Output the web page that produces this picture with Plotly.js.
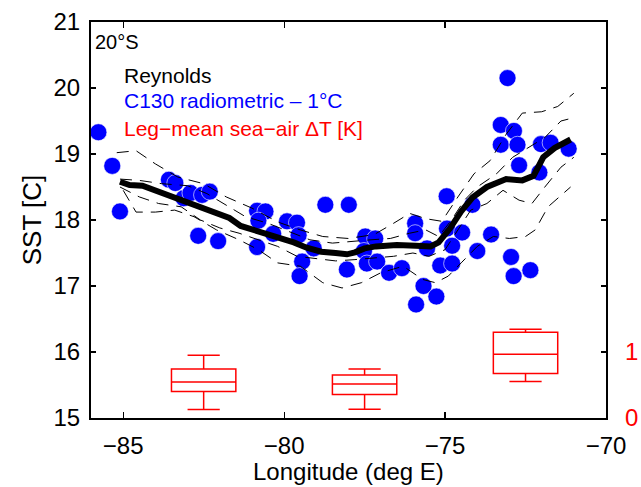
<!DOCTYPE html>
<html>
<head>
<meta charset="utf-8">
<script src="https://cdn.plot.ly/plotly-3.0.1.min.js"></script>
<style>html,body{margin:0;padding:0;background:#fff;} #chart{width:641px;height:487px;}</style>
</head>
<body>
<div id="chart"></div>
<script>
// C130 radiometric SST - 1°C (blue dots)
const c130Lon = [-85.77,-85.34,-85.10,-83.58,-83.38,-83.12,-82.91,-82.55,-82.31,-82.67,-82.05,
  -80.84,-80.58,-80.80,-80.84,-80.34,-79.91,-79.60,-79.55,-79.08,-79.44,-79.52,-78.72,-77.99,-78.05,
  -77.48,-77.17,-77.52,-77.43,-77.11,-76.74,-76.34,-75.93,-75.93,-75.56,-75.67,-75.90,-75.27,-75.15,
  -74.78,-74.95,-74.94,-74.47,-74.78,-74.15,-74.00,-73.57,-73.06,-73.27,-72.86,-73.27,-72.75,-72.70,
  -72.02,-71.72,-71.16,-72.07,-72.95,-72.87,-72.35];
const c130SST = [19.33,18.82,18.13,18.61,18.56,18.33,18.41,18.38,18.43,17.76,17.68,
  18.14,18.13,17.99,17.59,17.79,17.98,17.96,17.77,17.57,17.37,17.15,18.23,18.23,17.25,
  17.75,17.72,17.53,17.34,17.37,17.20,17.27,17.95,17.80,17.57,17.00,16.72,16.84,17.31,
  17.34,18.36,17.87,17.81,17.61,18.23,17.53,17.78,20.15,19.44,19.35,19.14,19.14,18.83,
  19.15,19.17,19.08,18.72,17.44,17.15,17.24];

// Reynolds SST (thick black line)
const reyLon = [-85.1,-84.8,-84.4,-83.9,-83.2,-82.6,-82.1,-81.7,-81.35,-80.75,-80.1,-79.7,-79.3,-78.85,
  -78.4,-78.05,-77.8,-77.5,-77.15,-76.5,-75.9,-75.45,-75.2,-74.85,-74.5,-74.15,-73.7,-73.1,-72.6,
  -72.25,-71.95,-71.6,-71.1];
const reySST = [18.58,18.53,18.52,18.43,18.30,18.19,18.10,18.03,17.91,17.82,17.73,17.66,17.58,17.52,
  17.50,17.48,17.51,17.57,17.60,17.62,17.61,17.60,17.66,17.87,18.13,18.34,18.50,18.62,18.60,
  18.67,18.95,19.09,19.22];

// Reynolds individual fields (thin dashed lines)
const dashALon = [-85.2,-84.6,-84,-83.3,-82.5,-81.8,-81,-80.2,-79.5,-78.8,-78,-77.2,-76.6,-76.1,-75.6,-75.1,-74.6,-74.1,-73.6,-73.1,-72.6,-72.0,-71.5,-71.0];
const dashASST = [19.02,19.05,18.85,18.65,18.55,18.35,18.18,17.97,17.85,17.75,17.72,17.78,17.95,18.1,18.02,17.98,18.35,18.7,18.9,19.3,19.62,19.64,19.72,19.92];
const dashBLon = [-85.0,-84.6,-84,-83.4,-82.8,-82.1,-81.4,-80.8,-80.2,-79.5,-78.8,-78.2,-77.6,-77.0,-76.3,-75.7,-75.3,-74.9,-74.5,-74.0,-73.5,-73.0,-72.5,-72.2,-71.8,-71.1];
const dashBSST = [18.45,18.12,18.12,18.15,18.05,17.85,17.7,17.55,17.35,17.3,17.05,16.97,17.05,17.2,17.3,17.1,17.05,17.15,17.35,17.6,17.75,17.72,17.75,17.85,18.2,18.5];
const dashCLon = [-85.1,-84.5,-83.8,-83.0,-82.4,-81.8,-81.2,-80.5,-79.8,-79.2,-78.5,-77.9,-77.3,-76.7,-76.1,-75.6,-75.2,-74.8,-74.4,-74.0,-73.4,-72.9,-72.4,-71.9,-71.4,-71.0];
const dashCSST = [18.62,18.6,18.55,18.52,18.4,18.22,18.05,17.95,17.82,17.7,17.65,17.68,17.7,17.72,17.8,17.85,17.75,18.0,18.3,18.5,18.7,18.95,19.1,19.25,19.5,19.55];
const dashDLon = [-85.1,-84.5,-83.9,-83.2,-82.6,-82.0,-81.4,-80.8,-80.2,-79.6,-79.0,-78.4,-77.8,-77.2,-76.6,-76.0,-75.5,-75.0,-74.6,-74.2,-73.7,-73.2,-72.7,-72.3,-71.9,-71.4,-71.0];
const dashDSST = [18.5,18.35,18.25,18.2,18.0,17.88,17.8,17.7,17.6,17.45,17.42,17.38,17.4,17.42,17.45,17.5,17.45,17.55,17.85,18.15,18.25,18.45,18.3,18.25,18.5,18.8,18.95];

// Leg-mean sea-air ΔT [K] box statistics (right axis)
const legLon = [-82.5, -77.5, -72.5];
const legLow = [0.127, 0.132, 0.552];
const legQ1 = [0.40, 0.355, 0.674];
const legMed = [0.546, 0.516, 0.967];
const legQ3 = [0.744, 0.652, 1.30];
const legHigh = [0.951, 0.744, 1.346];

const xTicks = [-85, -80, -75, -70];
const yTicks = [15, 16, 17, 18, 19, 20, 21];
const y2Ticks = [0, 1];

const FONT = 'Liberation Sans, Arial, Helvetica, sans-serif';

const dashStyle = {color: 'black', width: 1, dash: '12px,8px'};
const traces = [
  {x: c130Lon, y: c130SST, type: 'scatter', mode: 'markers',
   marker: {color: 'rgb(0,0,255)', size: 17, line: {color: 'white', width: 0.6}}, hoverinfo: 'skip'},
  {x: dashALon, y: dashASST, type: 'scatter', mode: 'lines', line: dashStyle},
  {x: dashBLon, y: dashBSST, type: 'scatter', mode: 'lines', line: dashStyle},
  {x: dashCLon, y: dashCSST, type: 'scatter', mode: 'lines', line: dashStyle},
  {x: dashDLon, y: dashDSST, type: 'scatter', mode: 'lines', line: dashStyle},
  {x: reyLon, y: reySST, type: 'scatter', mode: 'lines', line: {color: 'black', width: 6}},
  {type: 'box', x: legLon, q1: legQ1, median: legMed, q3: legQ3, lowerfence: legLow, upperfence: legHigh,
   width: 2, whiskerwidth: 0.5, yaxis: 'y2', fillcolor: 'rgba(255,255,255,0)',
   line: {color: 'rgb(255,0,0)', width: 1.5}, boxpoints: false}
];

const L = 90.5, R = 606, T = 22.3, B = 417.7;
function px(xp) { return (xp - L) / (R - L); }
function py(yp) { return (B - yp) / (B - T); }

const layout = {
  width: 641, height: 487,
  margin: {l: L, r: 641 - R, t: T, b: 487 - B},
  paper_bgcolor: 'white', plot_bgcolor: 'white',
  showlegend: false,
  font: {family: FONT, size: 22, color: 'black'},
  xaxis: {
    range: [-86, -70], tickvals: xTicks, ticktext: xTicks.map(v => '\u2212' + Math.abs(v)),
    ticks: 'inside', ticklen: 6, tickwidth: 1.2, tickcolor: 'black',
    showline: true, linecolor: 'black', linewidth: 2, mirror: 'ticks',
    showgrid: false, zeroline: false,
    tickfont: {size: 24, family: FONT}, ticklabelstandoff: 5
  },
  yaxis: {
    range: [15, 21], tickvals: yTicks,
    ticks: 'inside', ticklen: 5, tickwidth: 1.2, tickcolor: 'black',
    showline: true, linecolor: 'black', linewidth: 2, mirror: 'ticks',
    showgrid: false, zeroline: false,
    tickfont: {size: 24, family: FONT}, ticklabelstandoff: 4,
    title: {text: 'SST [C]', font: {size: 26, family: FONT}, standoff: 4}
  },
  yaxis2: {
    overlaying: 'y', side: 'right', range: [0, 6], tickvals: y2Ticks,
    ticks: '', showline: false, showgrid: false, zeroline: false,
    tickfont: {size: 24, family: FONT, color: 'rgb(255,0,0)'}, ticklabelstandoff: 18
  },
  annotations: [
    {text: 'Longitude (deg E)', x: 0.5, y: py(471), xref: 'paper', yref: 'paper', xanchor: 'center', yanchor: 'middle', showarrow: false, font: {size: 24, color: 'black', family: FONT}},
    {text: '20°S', x: px(93), y: py(42), xref: 'paper', yref: 'paper', xanchor: 'left', yanchor: 'middle', showarrow: false, font: {size: 20, color: 'black', family: FONT}},
    {text: 'Reynolds', x: px(122), y: py(76), xref: 'paper', yref: 'paper', xanchor: 'left', yanchor: 'middle', showarrow: false, font: {size: 21, color: 'black', family: FONT}},
    {text: 'C130 radiometric \u2013 1°C', x: px(122), y: py(100.5), xref: 'paper', yref: 'paper', xanchor: 'left', yanchor: 'middle', showarrow: false, font: {size: 21, color: 'rgb(0,0,255)', family: FONT}},
    {text: 'Leg\u2212mean sea\u2212air \u0394T [K]', x: px(122), y: py(128.5), xref: 'paper', yref: 'paper', xanchor: 'left', yanchor: 'middle', showarrow: false, font: {size: 21, color: 'rgb(255,0,0)', family: FONT}}
  ]
};

Plotly.newPlot('chart', traces, layout, {displayModeBar: false, staticPlot: true});
</script>
</body>
</html>
